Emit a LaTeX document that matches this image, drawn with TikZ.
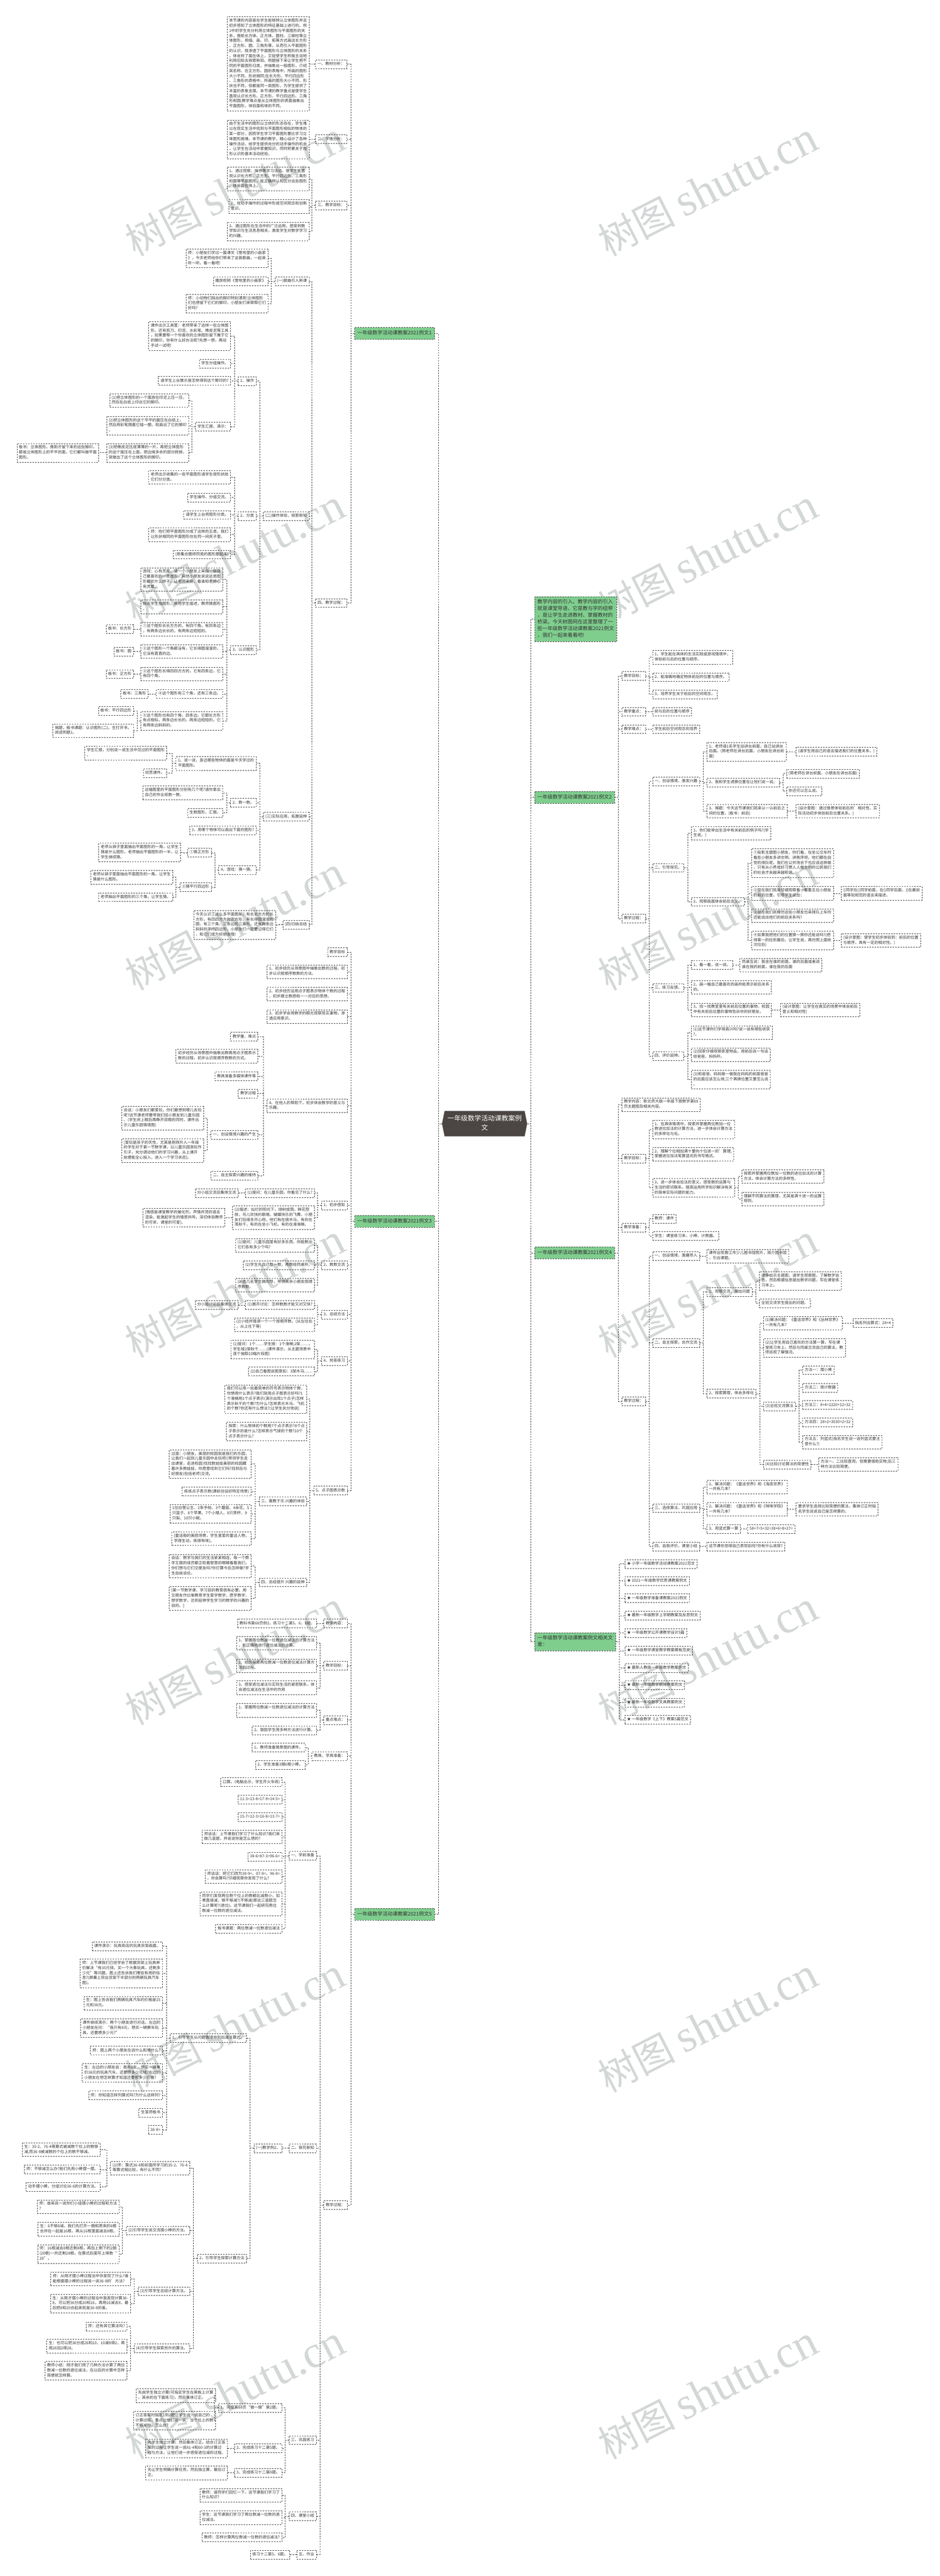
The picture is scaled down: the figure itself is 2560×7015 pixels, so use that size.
\documentclass[tikz,border=0pt]{standalone}
\usepackage{fontspec}
\setmainfont{Noto Sans CJK SC}
\newfontfamily\wmserif{Liberation Serif}
\usetikzlibrary{shapes.symbols}
\definecolor{linkgray}{HTML}{3C3C3C}
\definecolor{txtgray}{HTML}{333333}
\definecolor{topgreen}{HTML}{7FCE8E}
\definecolor{rootgray}{HTML}{4B4544}
\definecolor{wmgray}{HTML}{D4D7D7}
\tikzset{
	lf/.style={draw=linkgray,line width=.9pt,dash pattern=on 4pt off 3pt,text=txtgray,align=left,inner xsep=5.5pt,inner ysep=5pt,
		font=\fontsize{10.6}{13.7}\selectfont,execute at begin node=\strut,execute at end node=\strut},
	lfw/.style={lf,anchor=east},
	lfe/.style={lf,anchor=west},
	gbox/.style={draw=linkgray,line width=1pt,dash pattern=on 4pt off 3pt,fill=topgreen,text=black!80,align=left,inner xsep=7.5pt,inner ysep=7pt,
		font=\fontsize{13.7}{18.2}\selectfont,execute at begin node=\strut,execute at end node=\strut},
	gw/.style={gbox,anchor=east},
	ge/.style={gbox,anchor=west},
	rootbox/.style={shape=signal,signal to=west and east,signal pointer angle=157,fill=rootgray,text=white,text width=212pt,align=center,
		inner xsep=3pt,inner ysep=9pt,font=\fontsize{18.4}{25.5}\selectfont,execute at begin node=\strut,execute at end node=\strut},
	link/.style={draw=linkgray,line width=1pt,dash pattern=on 4pt off 3pt},
	wm/.style={text=wmgray,rotate=27,font=\fontsize{105}{105}\selectfont}
}
\begin{document}
\begin{tikzpicture}[x=1pt,y=-1pt]
	\useasboundingbox (0,0) rectangle (2560,7015);
	\foreach \k in {0,...,6}{
		\node[wm] (wl\k) at (640,516+1000*\k) {树图 {\wmserif\fontsize{124}{124}\selectfont shutu.cn}};
		\node[wm] (wr\k) at (1928,516+1000*\k) {树图 {\wmserif\fontsize{124}{124}\selectfont shutu.cn}};
	}
	\node[rootbox] (root) at (1320,3060) {一年级数学活动课教案例\\文};
	\node[gw] (g1) at (1184,908) {一年级数学活动课教案2021例文1};
	\node[gw] (g3) at (1184,3326) {一年级数学活动课教案2021例文3};
	\node[gw] (g5) at (1184,5213) {一年级数学活动课教案2021例文5};
	\node[ge] (gi) at (1456,1686) {教学内容的引入。教学内容的引入\\就是课堂导语，它是教与学的纽带\\，是让学生走进教材、掌握教材的\\桥梁。今天树图网在这里整理了一\\些一年级数学活动课教案2021例文\\，我们一起来看看吧!};
	\node[ge] (g2) at (1456,2171) {一年级数学活动课教案2021例文2};
	\node[ge] (g4) at (1456,3412) {一年级数学活动课教案2021例文4};
	\node[ge] (g6) at (1456,4471) {一年级数学活动课教案例文相关文\\章：};

	\node[lfw] (a1) at (945,175) {一、教材分析：};
	\node[lfw] (a2) at (945,379) {二、学情分析：};
	\node[lfw] (a3) at (945,559) {三、教学目标：};
	\node[lfw] (a4) at (945,1642) {四、教学过程：};
	\node[lfw] (a1t) at (842,174) {本节课的内容是在学生能够辨认立体图形并且\\初步感知了立体图形的特征基础上进行的。例\\1中的学生充分利用立体图形与平面图形的关\\系，借助长方体、正方体、圆柱、三棱柱等立\\体图形，用描、画、印、拓等方式画出长方形\\、正方形、圆、三角形等，从而引入平面图形\\的认识，既渗透了平面图形与立体图形的关系\\，体会到了面在体上，又促使学生积极主动地\\利用旧知去探索新知。例题接下来让学生把不\\同的平面图形归类，并抽象出一般图形，介绍\\其名称。在正方形、圆的表格中，所画的图形\\大小不同、形状相同;在长方形、平行四边形\\、三角形的表格中，所画的图形大小不同、形\\状也不同，但都是同一类图形，为学生提供了\\丰富的表象支撑。本节课的教学重点是使学生\\直观认识长方形、正方形、平行四边形、三角\\形和圆;教学难点是从立体图形的表面抽象出\\平面图形，体验面和体的不同。};
	\node[lfw] (a2t) at (842,379.5) {由于生活中的图形以立体的形态存在，学生难\\以在现实生活中找到与平面图形相似的物体的\\某一部分，因而学生学习平面图形要比学习立\\体图形困难。本节课的教学，精心设计了各种\\操作活动，给学生提供充分的动手操作的机会\\，让学生在活动中掌握知识，同时积累关于图\\形认识的基本活动经验。};
	\node[lfw] (a3x) at (842,487.5) {1、通过观察、操作等学习活动，使学生能直\\观认识长方形、正方形、平行四边形、三角形\\和圆等平面图形，能正确辨认和区分这些图形\\，体会面在体上。};
	\node[lfw] (a3y) at (842,562.5) {2、在动手操作的过程中形成空间观念和创新\\意识。};
	\node[lfw] (a3z) at (842,630) {3、通过图形在生活中的广泛运用，感受到数\\学知识与生活息息相关，激发学生对数学学习\\的兴趣。};

	\node[lfw] (b1) at (842,766) {(一)歌曲引入新课};
	\node[lfw] (b2) at (842,1405) {(二)操作体验，探索新知};
	\node[lfw] (b3) at (842,2224) {(三)实际应用，拓展延伸};
	\node[lfw] (b4) at (842,2518) {(四)归纳总结};
	\node[lfw] (b1x) at (730,704) {师：小朋友们学过一篇课文《雪地里的小画家\\》，今天老师给你们带来了这首歌曲，一起来\\听一听、看一看吧!};
	\node[lfw] (b1y) at (730,766) {播放视频《雪地里的小画家》};
	\node[lfw] (b1z) at (730,826.5) {师：小动物们踩出的脚印特别漂亮!立体图形\\们也想留下它们的脚印，小朋友们来帮帮它们\\好吗?};
	\node[lfw] (c1) at (698,1038) {1、操作};
	\node[lfw] (c2) at (698,1405) {2、分类};
	\node[lfw] (c3) at (698,1770) {3、认识图形};
	\node[lfw] (c1p) at (628.5,915) {课件出示工具筐：老师带来了这样一些立体图\\形，还有剪刀、印泥、水彩笔、橡皮泥等工具\\，如果要帮一个你喜欢的立体图形留下属于它\\的脚印，你有什么好办法呢?先想一想，再动\\手试一试吧!};
	\node[lfw] (c1q) at (628.5,990) {学生分组操作。};
	\node[lfw] (c1r) at (628.5,1037) {请学生上台展示是怎样得到这个脚印的?};
	\node[lfw] (c1s) at (628.5,1162) {学生汇报、演示：};
	\node[lfw] (c1u) at (514,1090.6) {(1)把立体图形的一个面放在印泥上压一压，\\然后在白纸上印出它的脚印。};
	\node[lfw] (c1v) at (514,1159) {(2)把立体图形的这个平平的面压在白纸上，\\然后用彩笔围着它描一圈，就画出了它的脚印\\。};
	\node[lfw] (c1w) at (514,1233) {(3)把橡皮泥压成薄薄的一片，再把立体图形\\的这个面压在上面，把边缘多余的部分掀掉，\\就做出了这个立体图形的脚印。};
	\node[lfw] (c1b) at (269.5,1233) {板书：立体图形。像刚才留下来的这些脚印，\\都是立体图形上的平平的面，它们都叫做平面\\图形。};
	\node[lfw] (c2p) at (628.5,1300) {老师出示收集的一些平面图形请学生按形状给\\它们分分类。};
	\node[lfw] (c2q) at (628.5,1355) {学生操作、分组交流。};
	\node[lfw] (c2r) at (628.5,1402) {请学生上台将图形分类。};
	\node[lfw] (c2s) at (628.5,1456) {师：他们把平面图形分成了这样的五类，我们\\让形状相同的平面图形住在同一间房子里。};
	\node[lfw] (c2t) at (628.5,1510) {(用集合圈将同类的图形圈起来)};
	\node[lfw] (c3p) at (607,1578) {游戏：心有灵犀。请一个小朋友上来指一指自\\己最喜欢的一类图形，其他小朋友说说这类图\\形都长什么样子，让老师来猜，看谁和老师心\\有灵犀。};
	\node[lfw] (c3q) at (607,1652.4) {指名学生指图形，其他学生描述，教师猜图形\\。};
	\node[lfw] (c3r) at (607,1713) {①这个图形长长方方的，有四个角，有四条边\\，有两条边长长的，有两条边短短的。};
	\node[lfw] (c3s) at (607,1774) {②这个图形一个角都没有，它长得圆溜溜的，\\它没有直直的边。};
	\node[lfw] (c3t) at (607,1835.5) {③这个图形长得四四方方的，它有四条边，它\\有四个角。};
	\node[lfw] (c3u) at (607,1889.7) {④这个图形有三个角，还有三条边。};
	\node[lfw] (c3v) at (607,1963) {⑤这个图形也有四个角，四条边。它跟长方形\\有点相似，两条边长长的，两条边短短的。它\\有两条边斜斜的。};
	\node[lfw] (c3rb) at (364,1713) {板书：长方形};
	\node[lfw] (c3sb) at (364,1774) {板书：圆};
	\node[lfw] (c3tb) at (364,1835.5) {板书：正方形};
	\node[lfw] (c3ub) at (404,1889.7) {板书：三角形};
	\node[lfw] (c3vb) at (364,1936) {板书：平行四边形};
	\node[lfw] (c3vc) at (364,1990) {揭题，板书课题：认识图形(二)。生打开书，\\阅读例题1。};

	\node[lfw] (d1) at (698,2079) {1、说一说，身边哪些物体的面是今天学过的\\平面图形。};
	\node[lfw] (d2) at (698,2186) {2、数一数。};
	\node[lfw] (d3) at (698,2261) {3、用哪个物体可以画出下面的图形?};
	\node[lfw] (d4) at (698,2369) {4、游戏：猜一猜。};
	\node[lfw] (d1p) at (454.5,2051) {学生汇报，分别说一说生活中见过的平面图形\\。};
	\node[lfw] (d1q) at (454.5,2105) {欣赏课件。};
	\node[lfw] (d2p) at (607,2159) {这幅图里的平面图形分别有几个呢?请你拿出\\自己的作业纸数一数。};
	\node[lfw] (d2q) at (607,2213.6) {生数图形，汇报。};
	\node[lfw] (d4a) at (575.5,2322) {①猜正方形};
	\node[lfw] (d4b) at (575.5,2416) {②猜平行四边形};
	\node[lfw] (d4ax) at (492.5,2321.5) {老师从袋子里面抽出平面图形的一角，让学生\\猜是什么图形。老师抽出平面图形的一半，让\\学生继续猜。};
	\node[lfw] (d4bx) at (471,2389) {老师从袋子里面抽出平面图形的一角，让学生\\猜是什么图形。};
	\node[lfw] (d4by) at (471,2443) {老师抽出平面图形的三个角，让学生猜。};
	\node[lfw] (b4x) at (751,2518.5) {今天认识了这么多平面图形，有长长方方的长\\方形，有四四方方的正方形，有长得圆溜溜的\\圆，有三个角、三条边的三角形，还有两条边\\斜斜的平行四边形，小朋友们一定要记得它们\\，和它们成为好朋友哦!};

	\node[lfw] (e0) at (946,2593) {教学目标};
	\node[lfw] (e1) at (946,2646) {1、初步经历从场景图中抽象出数的过程，初\\步认识按顺序数数的方法。};
	\node[lfw] (e2) at (946,2707) {2、初步经历运用点子图表示物体个数的过程\\，初步建立数感和一一对应的思想。};
	\node[lfw] (e3) at (946,2768) {3、初步学会用数学的眼光观察现实事物，渗\\透应用意识。};
	\node[lfw] (e4) at (946,3011) {4、在他人的帮助下，初步体会数学的意义与\\乐趣。};
	\node[lfw] (h1) at (703,2823) {教学重、难点};
	\node[lfw] (h2) at (703,2876) {初步经历从场景图中抽象出数再用点子图表示\\数的过程，初步认识按顺序数数的方式。};
	\node[lfw] (h3) at (703,2931) {教具准备多媒体课件等};
	\node[lfw] (h4) at (703,2978) {教学过程};
	\node[lfw] (h5) at (703,3090) {一、创设情境兴趣的产生};
	\node[lfw] (h6) at (703,3201.5) {二、自主探索兴趣的维持};
	\node[lfw] (h5x) at (555,3045) {谈话：小朋友们都爱玩，你们最想到哪儿去玩\\呢?这节课老师要带我们班小朋友到儿童乐园\\。(学生闭上眼后再睁开双眼的同时，课件出\\示儿童乐园情境图)};
	\node[lfw] (h5y) at (555,3133) {[爱玩是孩子的天性，尤其是刚刚升入一年级\\的学生对于第一节数学课，以儿童乐园游玩作\\引子，充分调动他们的学习兴趣，从上课开\\始便能全心投入，进入一个学习状态]。};
	\node[lfw] (f1) at (946,3282.5) {1、初步感知};
	\node[lfw] (f2) at (946,3445) {2、数数交流};
	\node[lfw] (f3) at (946,3580) {3、总结方法};
	\node[lfw] (f4) at (946,3706) {4、抢答练习};
	\node[lfw] (f5) at (946,4059) {5、点子图表示数};
	\node[lfw] (f1p) at (857,3249) {(1)提问：在儿童乐园，你看见了什么?};
	\node[lfw] (f1q) at (857,3316) {(2)描述：灿烂的阳光下，绿树成荫，鲜花怒\\放，鸟儿欢快的歌唱，蝴蝶快乐的飞舞，小朋\\友们玩得多开心呀，他们有在骑木马，有的在\\荡秋千，有的在坐小飞机，有的在滑滑梯。};
	\node[lfw] (f1pb) at (649,3249) {分小组交流后集体交流};
	\node[lfw] (f1qb) at (613,3316) {[情感是课堂教学的催化剂，声情并茂的语言\\渲染，能激起学生的情感共鸣，深切体验教师\\的可亲，课堂的可爱]。};
	\node[lfw] (f2p) at (857,3391) {(1)提问：儿童乐园里有好多东西，你能数出\\它们各有多少个吗?};
	\node[lfw] (f2q) at (857,3445) {(2)学生先自己数一数，再数给同桌听。};
	\node[lfw] (f2r) at (857,3499) {(3)选几名学生做向导，带领其余小朋友按顺\\序数数。};
	\node[lfw] (f3p) at (857,3553.6) {(1)展开讨论：怎样数数才能又对又快?};
	\node[lfw] (f3pb) at (649,3553.6) {分小组讨论后集体交流};
	\node[lfw] (f3q) at (857,3607) {(2)小结并强调一个一个按顺序数。(从左往右\\，从上往下等)};
	\node[lfw] (f4p) at (857,3675) {(1)提问：1个……学生接：1个滑梯;2架……，\\学生接2架秋千……(课件演示，从主题场景中\\逐个抽取10幅片段图)};
	\node[lfw] (f4q) at (857,3735) {(2)自己看图说图意如：3架木马……};
	\node[lfw] (f5p) at (836,3810) {我们可以用一些最简单的符号表示物体个数，\\你想用什么表示?我们就用点子图表示好吗?1\\个滑梯用1个点子表示(演示出现1个点子)怎样\\表示秋千的个数?为什么?怎样表示木马、飞机\\的个数?你还有什么想法?(让学生充分地说)};
	\node[lfw] (f5q) at (836,3898.6) {探索：什么物体的个数用7个点子表示?8个点\\子表示的是什么?怎样表示气球的个数?10个\\点子表示什么?};
	\node[lfw] (k3) at (836,4088.6) {三、寓教于乐 兴趣的体验};
	\node[lfw] (k4) at (836,4309) {四、总结提升 兴趣的延伸};
	\node[lfw] (k3p) at (684.6,3987) {过渡：小朋友，美丽的校园就是我们的乐园，\\让我们一起到儿童乐园中去玩吧!(带领学生走\\出课堂，走进校园)找找数娃娃美丽的校园藏\\着许多数娃娃，你愿意找到它们吗?找到后与\\好朋友(包括老师)交流。};
	\node[lfw] (k3q) at (684.6,4062) {练练点子表示数(课前创设好特定场景)};
	\node[lfw] (k3r) at (684.6,4122) {1位白雪公主、2条手帕、3个蘑菇、4朵花、5\\只篮子、6个苹果、7个小矮人、8只茶杯、9\\只梨、10只小碗。};
	\node[lfw] (k3s) at (684.6,4190) {[童话般的美丽场景，学生喜爱的童话人物，\\学得生动，练得有味]。};
	\node[lfw] (k4p) at (684.6,4264.7) {谈话：数学与我们的生活紧紧相连，每一个数\\学王国的成员都正眨着智慧的眼睛看着我们，\\你们想与它们交朋友吗?你打算今后怎样做?学\\生自由谈论。};
	\node[lfw] (k4q) at (684.6,4353) {[第一节数学课，学习目的教育很有必要。用\\交朋友作比喻教育学生爱学数学，愿学数学，\\想学数学，达到延伸学生学习的数学的兴趣的\\目的。]};

	\node[lfw] (m1) at (946,4421) {教学内容：};
	\node[lfw] (m2) at (946,4536) {教学目标：};
	\node[lfw] (m3) at (946,4684) {重点难点：};
	\node[lfw] (m4) at (946,4782.5) {教具、学具准备：};
	\node[lfw] (m5) at (946,6005) {教学过程：};
	\node[lfw] (m1x) at (863,4421) {教科书第68页例2，练习十二第5、6、8题。};
	\node[lfw] (m2x) at (863,4475) {1、掌握两位数减一位数退位减法的计算方法\\，能正确地进行退位减法的计算。};
	\node[lfw] (m2y) at (863,4536) {2、经历探索两位数减一位数退位减法计算方\\法的过程。};
	\node[lfw] (m2z) at (863,4596) {3、感受退位减法与实际生活的紧密联系，体\\会退位减法在生活中的作用};
	\node[lfw] (m3x) at (863,4657.5) {1、掌握两位数减一位数退位减法的计算方法\\。};
	\node[lfw] (m3y) at (863,4712) {2、鼓励学生用多种方法进行计算。};
	\node[lfw] (m4x) at (831,4759) {1、教师准备情景图的课件。};
	\node[lfw] (m4y) at (831,4806) {2、学生准备3捆6根小棒。};
	\node[lfw] (n1) at (862,5053.6) {一、学前准备};
	\node[lfw] (n2) at (862,5850) {二、探究新知};
	\node[lfw] (n3) at (862,6645) {三、巩固练习};
	\node[lfw] (n4) at (862,6852) {四、课堂小结};
	\node[lfw] (n5) at (862,6957) {五、作业};
	\node[lfw] (n1a) at (768.5,4853) {口算。(电脑出示，学生开火车练)};
	\node[lfw] (n1b) at (768.5,4900.5) {11-3=13-8=17-9=14-5=};
	\node[lfw] (n1c) at (768.5,4948) {15-7=12-3=16-8=13-7=};
	\node[lfw] (n1d) at (768.5,5002) {师谈话：上节课我们学习了什么知识?我们来\\做几道题，并说说你是怎么想的?};
	\node[lfw] (n1e) at (768.5,5056) {38-6=87-3=96-6=};
	\node[lfw] (n1f) at (768.5,5110) {师谈话：把它们改为38-9=、87-8=、96-8=\\，你会算吗?仔细观察你发现了什么?};
	\node[lfw] (n1g) at (768.5,5184) {同学们发现两位数个位上的数都比减数小，如\\果直接减，够不够减?(不够减)那这三道题怎\\么计算呢?(退位)。这节课我们一起研究两位\\数减一位数的退位减法。};
	\node[lfw] (n1h) at (768.5,5252.5) {板书课题：两位数减一位数退位减法};
	\node[lfw] (p0) at (769,5850) {(一)教学例2。};
	\node[lfw] (p1) at (671.6,5550) {1、引导学生从问题情境中列出减法算式。};
	\node[lfw] (p2) at (671.6,6150) {2、引导学生探索计算方法};
	\node[lfw] (p1a) at (443,5300) {课件演示：玩具商店的玩具货架画面。};
	\node[lfw] (p1b) at (443,5374) {师：上节课我们已经学会了根据货架上玩具单\\价解决“有35元钱，买一个大象玩具，还剩多\\少元”等问题。图上还告诉我们哪些有用的信\\息?(屏幕上突出货架下半部分的两辆玩具汽车\\图)。};
	\node[lfw] (p1c) at (443,5455) {生：图上告诉我们两辆玩具汽车的价格是15\\元和36元。};
	\node[lfw] (p1d) at (443,5523) {课件继续演示：两个小朋友进行对话。左边的\\小朋友在问：“我只有8元，想买一辆赛车玩\\具，还要攒多少元?”};
	\node[lfw] (p1e) at (443,5584) {师：图上两个小朋友在说什么和想什么?};
	\node[lfw] (p1f) at (443,5645) {生：左边的小朋友说：我有8元，想买一辆单\\价36元的玩具汽车，还要攒多少元钱?右边的\\小朋友在想怎样算才知道还要攒多少元钱?};
	\node[lfw] (p1g) at (443,5706) {师：你知道怎样列算式吗?为什么这样列?};
	\node[lfw] (p1h) at (443,5753) {生答师板书};
	\node[lfw] (p1i) at (443,5800) {36-8=};
	\node[lfw] (q1) at (517,5904) {(1)师：算式36-8和前面所学习的35-2、76-4\\等算式相比较，有什么不同?};
	\node[lfw] (q2) at (517,6074) {(2)引导学生说交流摆小棒的方法。};
	\node[lfw] (q3) at (517,6239.5) {(3)引导学生总结计算方法。};
	\node[lfw] (q4) at (517,6395) {(4)引导学生探索另外的算法。};
	\node[lfw] (q1x) at (273.6,5854) {生：35-2、76-4等算式被减数个位上的数够\\减,而36-8被减数的个位上的数不够减。};
	\node[lfw] (q1y) at (273.6,5908) {师：不够减怎么办?我们先用小棒摆一摆。};
	\node[lfw] (q1z) at (273.6,5955) {动手摆小棒，分组讨论36-8的计算方法。};
	\node[lfw] (q2x) at (324.6,6009) {师：谁来说一说你们小组摆小棒的过程和方法\\?};
	\node[lfw] (q2y) at (324.6,6070.5) {生：6不够8减，我们先打开一捆和原来的6根\\合并在一起是16根，再从16根里面减去8根。};
	\node[lfw] (q2z) at (324.6,6138) {师：16根减去8根还剩8根，再加上剩下的2捆\\(20根)一共还剩28根。在算式后面写上得数“\\28”。};
	\node[lfw] (q3x) at (356,6206) {师：从刚才摆小棒过程当中你发现了什么?谁\\能根据摆小棒的过程说一说36-8的'方法?};
	\node[lfw] (q3y) at (356,6273) {生：从刚才摆小棒的过程当中我发现计算36-\\8，可以把36分成20和16，再用16减去8，最\\后把8和20合起来就是36-8的差。};
	\node[lfw] (q4x) at (346,6335) {师：还有其它算法吗?};
	\node[lfw] (q4y) at (346,6389) {生：也可以把36分成26和10，10减8得2，再\\用26加2得28。};
	\node[lfw] (q4z) at (346,6456) {教师小结：刚才我们用了几种方法计算了两位\\数减一位数的退位减法，在以后的计算中怎样\\简便就怎样算。};
	\node[lfw] (r1) at (768,6557) {1、完成第68页“做一做”第2题。};
	\node[lfw] (r2) at (768,6667) {2、完成练习十二第5题。};
	\node[lfw] (r3) at (768,6734) {3、完成练习十二第8题。};
	\node[lfw] (r1x) at (587,6523.6) {先由学生独立计算(可指定学生在黑板上计算\\，其余的在下面练习)，然后集体订正。};
	\node[lfw] (r1y) at (587,6592) {订正答案时指定1到2题让学生说一说自己的\\计算过程，重点让他们说一说：当个位上的数\\不够减时，怎么办?};
	\node[lfw] (r2x) at (620,6667) {先学生独立计算，然后集体订正。结合订正答\\案的过程让学生说一说81-4和60-3的计算过\\程与方法，让他们进一步感受退位减的过程。};
	\node[lfw] (r3x) at (620,6734) {先让学生明确计算任务，然后独立算，最后订\\正。};
	\node[lfw] (s1) at (768,6795) {教师：请同学们回忆一下，这节课我们学习了\\什么知识?};
	\node[lfw] (s2) at (768,6856) {学生：这节课我们学习了两位数减一位数的退\\位减法。};
	\node[lfw] (s3) at (768,6910) {教师：怎样计算两位数减一位数的退位减法?};
	\node[lfw] (n5x) at (790,6957) {练习十二第5、6题。};

	\node[lfe] (t1) at (1693.5,1841) {教学目标：};
	\node[lfe] (t2) at (1693.5,1938) {教学重点：};
	\node[lfe] (t3) at (1693.5,1985.6) {教学难点：};
	\node[lfe] (t4) at (1693.5,2501.5) {教学过程：};
	\node[lfe] (t1x) at (1777,1790) {1、学生能在具体的生活实践或游戏情境中，\\体验前与后的位置与顺序。};
	\node[lfe] (t1y) at (1777,1844) {2、能准确地确定物体前后的位置与顺序。};
	\node[lfe] (t1z) at (1777,1891) {3、培养学生关于前后的空间观念。};
	\node[lfe] (t2x) at (1777,1938) {前与后的位置与顺序};
	\node[lfe] (t3x) at (1777,1985.6) {学生前后空间观念的培养};
	\node[lfe] (u1) at (1777,2128) {一、创设情境，激发兴趣};
	\node[lfe] (u2) at (1777,2363) {二、引导探究。};
	\node[lfe] (u3) at (1777,2690) {三、练习反馈。};
	\node[lfe] (u4) at (1777,2876) {四、评价延伸。};
	\node[lfe] (u1a) at (1925,2047) {1、老师请1名学生站讲台前面，自己站讲台\\后面。(郭老师在讲台后面，小朋友在讲台前\\面)};
	\node[lfe] (u1ax) at (2168,2047) {(请学生用自己的语言描述我们的位置关系。)};
	\node[lfe] (u1b) at (1925,2131) {2、我和学生调换位置在让他们说一说。};
	\node[lfe] (u1bx) at (2142,2107) {(郭老师在讲台前面，小朋友在讲台后面)};
	\node[lfe] (u1by) at (2142,2154.6) {你还可以怎么说。};
	\node[lfe] (u1c) at (1925,2209) {3、揭题：今天这节课我们就来认一认前后之\\间的位置。(板书：前后)};
	\node[lfe] (u1cx) at (2168,2209) {(设计意图：通过情景体验前后的'相对性，实\\际活动初步体验前后位置关系。)};
	\node[lfe] (u2a) at (1882.6,2269) {1、你们能举出生活中有关前后的例子吗?(学\\生说。)};
	\node[lfe] (u2b) at (1882.6,2455.6) {2、观察画面体会前后含义。};
	\node[lfe] (v1) at (2046.5,2350.5) {①投影主题图小朋友，你们看，在坐公交车时\\看些小朋友多讲文明、讲秩序呀。他们都在自\\觉的排队呢。我们在公共场合下也应该这样做\\，只有从小养成好习惯人人做文明的公民我们\\的社会才会越来越和谐。};
	\node[lfe] (v2) at (2046.5,2432.6) {②现在我们就来仔细观察看一看着五位小朋友\\的前后位置，引导学生说出：};
	\node[lfe] (v2x) at (2291,2432.6) {()同学在()同学前面，在()同学后面，()在最前\\面等较规范的语言来描述。};
	\node[lfe] (v3) at (2046.5,2493) {③现在我们就模仿这些小朋友也来排队上车你\\还能说出他们的前后关系吗?};
	\node[lfe] (v4) at (2046.5,2561) {④如果我把他们的位置换一换你还能说吗?(把\\排第一的拉到最后，让学生说，再仿照上面依\\次拉后)};
	\node[lfe] (v4x) at (2291,2561) {(设计意图：使学生初步体验到：前后的位置\\与顺序，具有一定的相对性。)};
	\node[lfe] (u3a) at (1882.6,2628) {1、看一看，说一说。};
	\node[lfe] (u3ax) at (2015,2628) {同桌互说：我坐在谁的前面，谁的后面或者说\\谁在我的前面，谁在我的后面};
	\node[lfe] (u3b) at (1882.6,2689) {2、画一幅自己最喜欢的画并能表示前后关系\\的。};
	\node[lfe] (u3c) at (1882.6,2750) {3、找一找教室里有关前后位置的事物，校园\\中有关前后位置的事物告诉你的好朋友。};
	\node[lfe] (u3cx) at (2125.4,2750) {(设计意图：让学生在真实的场景中体会前后\\意义和相对性)};
	\node[lfe] (u4a) at (1882.6,2811.5) {(1)这节课你们学得高兴吗?说一说有哪些收获\\?。};
	\node[lfe] (u4b) at (1882.6,2872) {(2)回家仔细观察家里物品，用前后说一句话\\给爸爸、妈妈听。};
	\node[lfe] (u4c) at (1882.6,2940) {(3)和爸爸、妈妈做一做我在妈妈的前面爸爸\\的后面应该怎么排;三个再换位置又要怎么说\\。};

	\node[lfe] (w1) at (1693.5,3008) {教学内容：新北师大版一年级下册数学第68\\页主题图及相关内容。};
	\node[lfe] (w2) at (1693.5,3155) {教学目标：};
	\node[lfe] (w3) at (1693.5,3343) {教学准备：};
	\node[lfe] (w4) at (1693.5,3816) {教学过程：};
	\node[lfe] (w2a) at (1777,3075.5) {1、在具体情境中，探索并掌握两位数加一位\\数进位加法的计算方法，进一步体会计算方法\\的多样化与化。};
	\node[lfe] (w2b) at (1777,3143) {2、理解个位相加满十要向十位进一的'算理,\\掌握进位加法笔算竖式的书写格式。};
	\node[lfe] (w2c) at (1777,3235) {3、进一步体会加法的意义，感受数的运算与\\生活的密切联系，提高运用所学知识解决有关\\的简单实际问题的能力。};
	\node[lfe] (w2cx) at (2020,3204) {探索并掌握两位数加一位数的进位加法的计算\\方法，体会计算方法的多样性。};
	\node[lfe] (w2cy) at (2020,3265) {理解不同算法的算理，尤其是满十进一的运算\\规则。};
	\node[lfe] (w3a) at (1777,3319) {教师：课件};
	\node[lfe] (w3b) at (1777,3366) {学生：课堂练习本、小棒、计数器。};
	\node[lfe] (x1) at (1777,3420.5) {一、创设情境，激趣导入};
	\node[lfe] (x2) at (1777,3657) {二、自主探索，合作交流};
	\node[lfe] (x3) at (1777,4107) {三、选择算法，巩固应用};
	\node[lfe] (x4) at (1777,4211) {四、自我评价，课堂小结};
	\node[lfe] (x1t) at (1925,3420.5) {课件出现晋江市少儿图书馆照片，简介图书馆\\，引出课题。};
	\node[lfe] (x2a) at (1925,3518) {1、观察交流，提出问题};
	\node[lfe] (x2ap) at (2068,3488) {课件出示主题图，请学生观察图，了解数学信\\息，然后根据信息提出数学问题，写在课堂练\\习本上。};
	\node[lfe] (x2aq) at (2068,3549) {全班交流学生提出的问题。};
	\node[lfe] (x2b) at (1925,3795) {2、探索算理，体会多样化};
	\node[lfe] (y1) at (2078.6,3603) {(1)解决问题：《童话世界》和《丛林世界》\\一共有几本?};
	\node[lfe] (y1x) at (2323,3603) {指名列出算式：28+4};
	\node[lfe] (y2) at (2078.6,3670.7) {(2)让学生用自己喜欢的方法算一算，写在课\\堂练习本上，然后与同桌交流自己的算法，教\\师巡视了解情况。};
	\node[lfe] (y3) at (2078.6,3829.5) {(3)全班交流算法};
	\node[lfe] (z1) at (2186,3731) {方法一：摆小棒};
	\node[lfe] (z2) at (2186,3779) {方法二：拨计数器};
	\node[lfe] (z3) at (2186,3826) {方法三：8+4=1220+12=32};
	\node[lfe] (z4) at (2186,3873.5) {方法四：28+2=3030+2=32};
	\node[lfe] (z5) at (2186,3927) {方法五：列竖式(指名学生说一说列竖式要注\\意什么?)};
	\node[lfe] (y4) at (2078.6,3988) {(4)比较讨论算法的简便性};
	\node[lfe] (y4x) at (2229.5,3988) {方法一、二比较直观，但需要借助实物;后三\\种方法比较简便。};
	\node[lfe] (x3a) at (1925,4049.5) {1、解决问题：《童话世界》和《海底世界》\\一共有几本?};
	\node[lfe] (x3b) at (1925,4110) {2、解决问题：《童话世界》和《咪咪学院》\\一共有几本?};
	\node[lfe] (x3bx) at (2168,4110) {要求学生选择比较简便的算法，集体订正时指\\名学生说说自己是怎样算的。};
	\node[lfe] (x3c) at (1925,4163.7) {3、用竖式算一算};
	\node[lfe] (x3cx) at (2036,4163.7) {58+7=5+32=38+6=8+27=};
	\node[lfe] (x4t) at (1925,4211) {这节课你觉得自己表现如何?你有什么收获?};

	\node[lfe] (l1) at (1702,4258.7) {★ 小学一年级数学活动课教案2021范文};
	\node[lfe] (l2) at (1702,4305) {★ 2021一年级数学优质课教案例文};
	\node[lfe] (l3) at (1702,4352.4) {★ 一年级数学准备课教案2021例文};
	\node[lfe] (l4) at (1702,4399.6) {★ 最新一年级数学上学期教案及反思例文};
	\node[lfe] (l5) at (1702,4447) {★ 一年级数学公开课教学设计5篇};
	\node[lfe] (l6) at (1702,4495) {★ 一年级数学课堂教学教案模板范文};
	\node[lfe] (l7) at (1702,4542) {★ 最新人教版一年级数学教案例文};
	\node[lfe] (l8) at (1702,4589) {★ 最新一年级数学跳绳教案例文};
	\node[lfe] (l9) at (1702,4636) {★ 最新一年级数学文具教案例文};
	\node[lfe] (l10) at (1702,4683) {★ 一年级数学《上下》教案5篇范文};

	\foreach \p/\kids in {root/{g1,g3,g5},g1/{a1,a2,a3,a4},a1/{a1t},a2/{a2t},a3/{a3x,a3y,a3z},a4/{b1,b2,b3,b4},
		b1/{b1x,b1y,b1z},b2/{c1,c2,c3},c1/{c1p,c1q,c1r,c1s},c1s/{c1u,c1v,c1w},c1w/{c1b},c2/{c2p,c2q,c2r,c2s,c2t},
		c3/{c3p,c3q,c3r,c3s,c3t,c3u,c3v},c3r/{c3rb},c3s/{c3sb},c3t/{c3tb},c3u/{c3ub},c3v/{c3vb,c3vc},
		b3/{d1,d2,d3,d4},d1/{d1p,d1q},d2/{d2p,d2q},d4/{d4a,d4b},d4a/{d4ax},d4b/{d4bx,d4by},b4/{b4x},
		g3/{e0,e1,e2,e3,e4,f1,f2,f3,f4,f5},e4/{h1,h2,h3,h4,h5,h6},h5/{h5x,h5y},f1/{f1p,f1q},f1p/{f1pb},f1q/{f1qb},
		f2/{f2p,f2q,f2r},f3/{f3p,f3q},f3p/{f3pb},f4/{f4p,f4q},f5/{f5p,f5q,k3,k4},k3/{k3p,k3q,k3r,k3s},k4/{k4p,k4q},
		g5/{m1,m2,m3,m4,m5},m1/{m1x},m2/{m2x,m2y,m2z},m3/{m3x,m3y},m4/{m4x,m4y},m5/{n1,n2,n3,n4,n5},
		n1/{n1a,n1b,n1c,n1d,n1e,n1f,n1g,n1h},n2/{p0},p0/{p1,p2},p1/{p1a,p1b,p1c,p1d,p1e,p1f,p1g,p1h,p1i},p2/{q1,q2,q3,q4},
		q1/{q1x,q1y,q1z},q2/{q2x,q2y,q2z},q3/{q3x,q3y},q4/{q4x,q4y,q4z},n3/{r1,r2,r3},r1/{r1x,r1y},r2/{r2x},r3/{r3x},
		n4/{s1,s2,s3},n5/{n5x}}
		\foreach \c in \kids
			\draw[link] (\p.west)--++(-10,0)|-(\c.east);
	\foreach \p/\kids in {root/{gi,g2,g4,g6},g2/{t1,t2,t3,t4},t1/{t1x,t1y,t1z},t2/{t2x},t3/{t3x},t4/{u1,u2,u3,u4},
		u1/{u1a,u1b,u1c},u1a/{u1ax},u1b/{u1bx,u1by},u1c/{u1cx},u2/{u2a,u2b},u2b/{v1,v2,v3,v4},v2/{v2x},v4/{v4x},
		u3/{u3a,u3b,u3c},u3a/{u3ax},u3c/{u3cx},u4/{u4a,u4b,u4c},g4/{w1,w2,w3,w4},w2/{w2a,w2b,w2c},w2c/{w2cx,w2cy},
		w3/{w3a,w3b},w4/{x1,x2,x3,x4},x1/{x1t},x2/{x2a,x2b},x2a/{x2ap,x2aq},x2b/{y1,y2,y3,y4},y1/{y1x},y3/{z1,z2,z3,z4,z5},
		y4/{y4x},x3/{x3a,x3b,x3c},x3b/{x3bx},x3c/{x3cx},x4/{x4t},g6/{l1,l2,l3,l4,l5,l6,l7,l8,l9,l10}}
		\foreach \c in \kids
			\draw[link] (\p.east)--++(10,0)|-(\c.west);
\end{tikzpicture}
\end{document}
